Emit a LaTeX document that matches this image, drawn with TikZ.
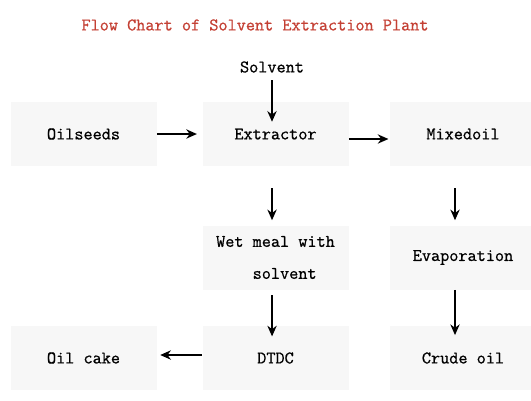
\documentclass[tikz,border=0pt]{standalone}
\usepackage{fontspec}
\newfontfamily\chartface[FakeBold=0.8]{Latin Modern Mono}
\usetikzlibrary{arrows.meta}
\definecolor{titlered}{RGB}{196,64,52}
\definecolor{boxgray}{RGB}{247,247,247}
\newcommand{\chartfont}{\chartface\fontsize{13.3}{24}\selectfont}
\begin{document}
\begin{tikzpicture}[x=0.75pt,y=0.75pt,yscale=-1,
	stage/.style={fill=boxgray,minimum width=109.5pt,minimum height=48pt,inner sep=0pt,font=\chartfont},
	flow/.style={-{Stealth[length=8pt,width=7pt]},line width=1.1pt}]
		\useasboundingbox (0,0) rectangle (531,400);

		\node (title) at (255,25) [text=titlered,font=\chartfont] {Flow Chart of Solvent Extraction Plant};
		\node (solvent) at (272,67) [font=\chartfont] {Solvent};

		\node (oilseeds) at (83.5,134) [stage] {Oilseeds};
		\node (extractor) at (275.5,134) [stage] {Extractor};
		\node (mixedoil) at (463,134) [stage] {Mixedoil};
		\node (wetmeal) at (275.5,257.5) [stage,align=left] {Wet meal with\\\phantom{Wet }solvent};
		\node (evap) at (463,257.5) [stage] {Evaporation};
		\node (oilcake) at (83.5,358) [stage] {Oil cake};
		\node (dtdc) at (275.5,358) [stage] {DTDC};
		\node (crude) at (463,358) [stage] {Crude oil};

		\draw [flow] ([yshift=2pt]solvent.south) -- ([yshift=15pt]solvent.south |- extractor.north);
		\draw [flow] (oilseeds.east) -- ([xshift=-4pt]extractor.west);
		\draw [flow] ([yshift=3.75pt]extractor.east) -- ([yshift=3.75pt,xshift=-1pt]mixedoil.west);
		\draw [flow] ([xshift=-2.6pt,yshift=16.5pt]extractor.south) -- ([xshift=-2.6pt,yshift=-3.75pt]wetmeal.north);
		\draw [flow] ([xshift=-6pt,yshift=16.5pt]mixedoil.south) -- ([xshift=-6pt,yshift=-3.75pt]evap.north);
		\draw [flow] ([xshift=-2.6pt,yshift=4pt]wetmeal.south) -- ([xshift=-2.6pt,yshift=8pt]dtdc.north);
		\draw [flow] ([xshift=-6pt]evap.south) -- ([xshift=-6pt,yshift=7pt]crude.north);
		\draw [flow] ([yshift=-2.25pt]dtdc.west) -- ([yshift=-2.25pt,xshift=2.6pt]oilcake.east);
\end{tikzpicture}
\end{document}
